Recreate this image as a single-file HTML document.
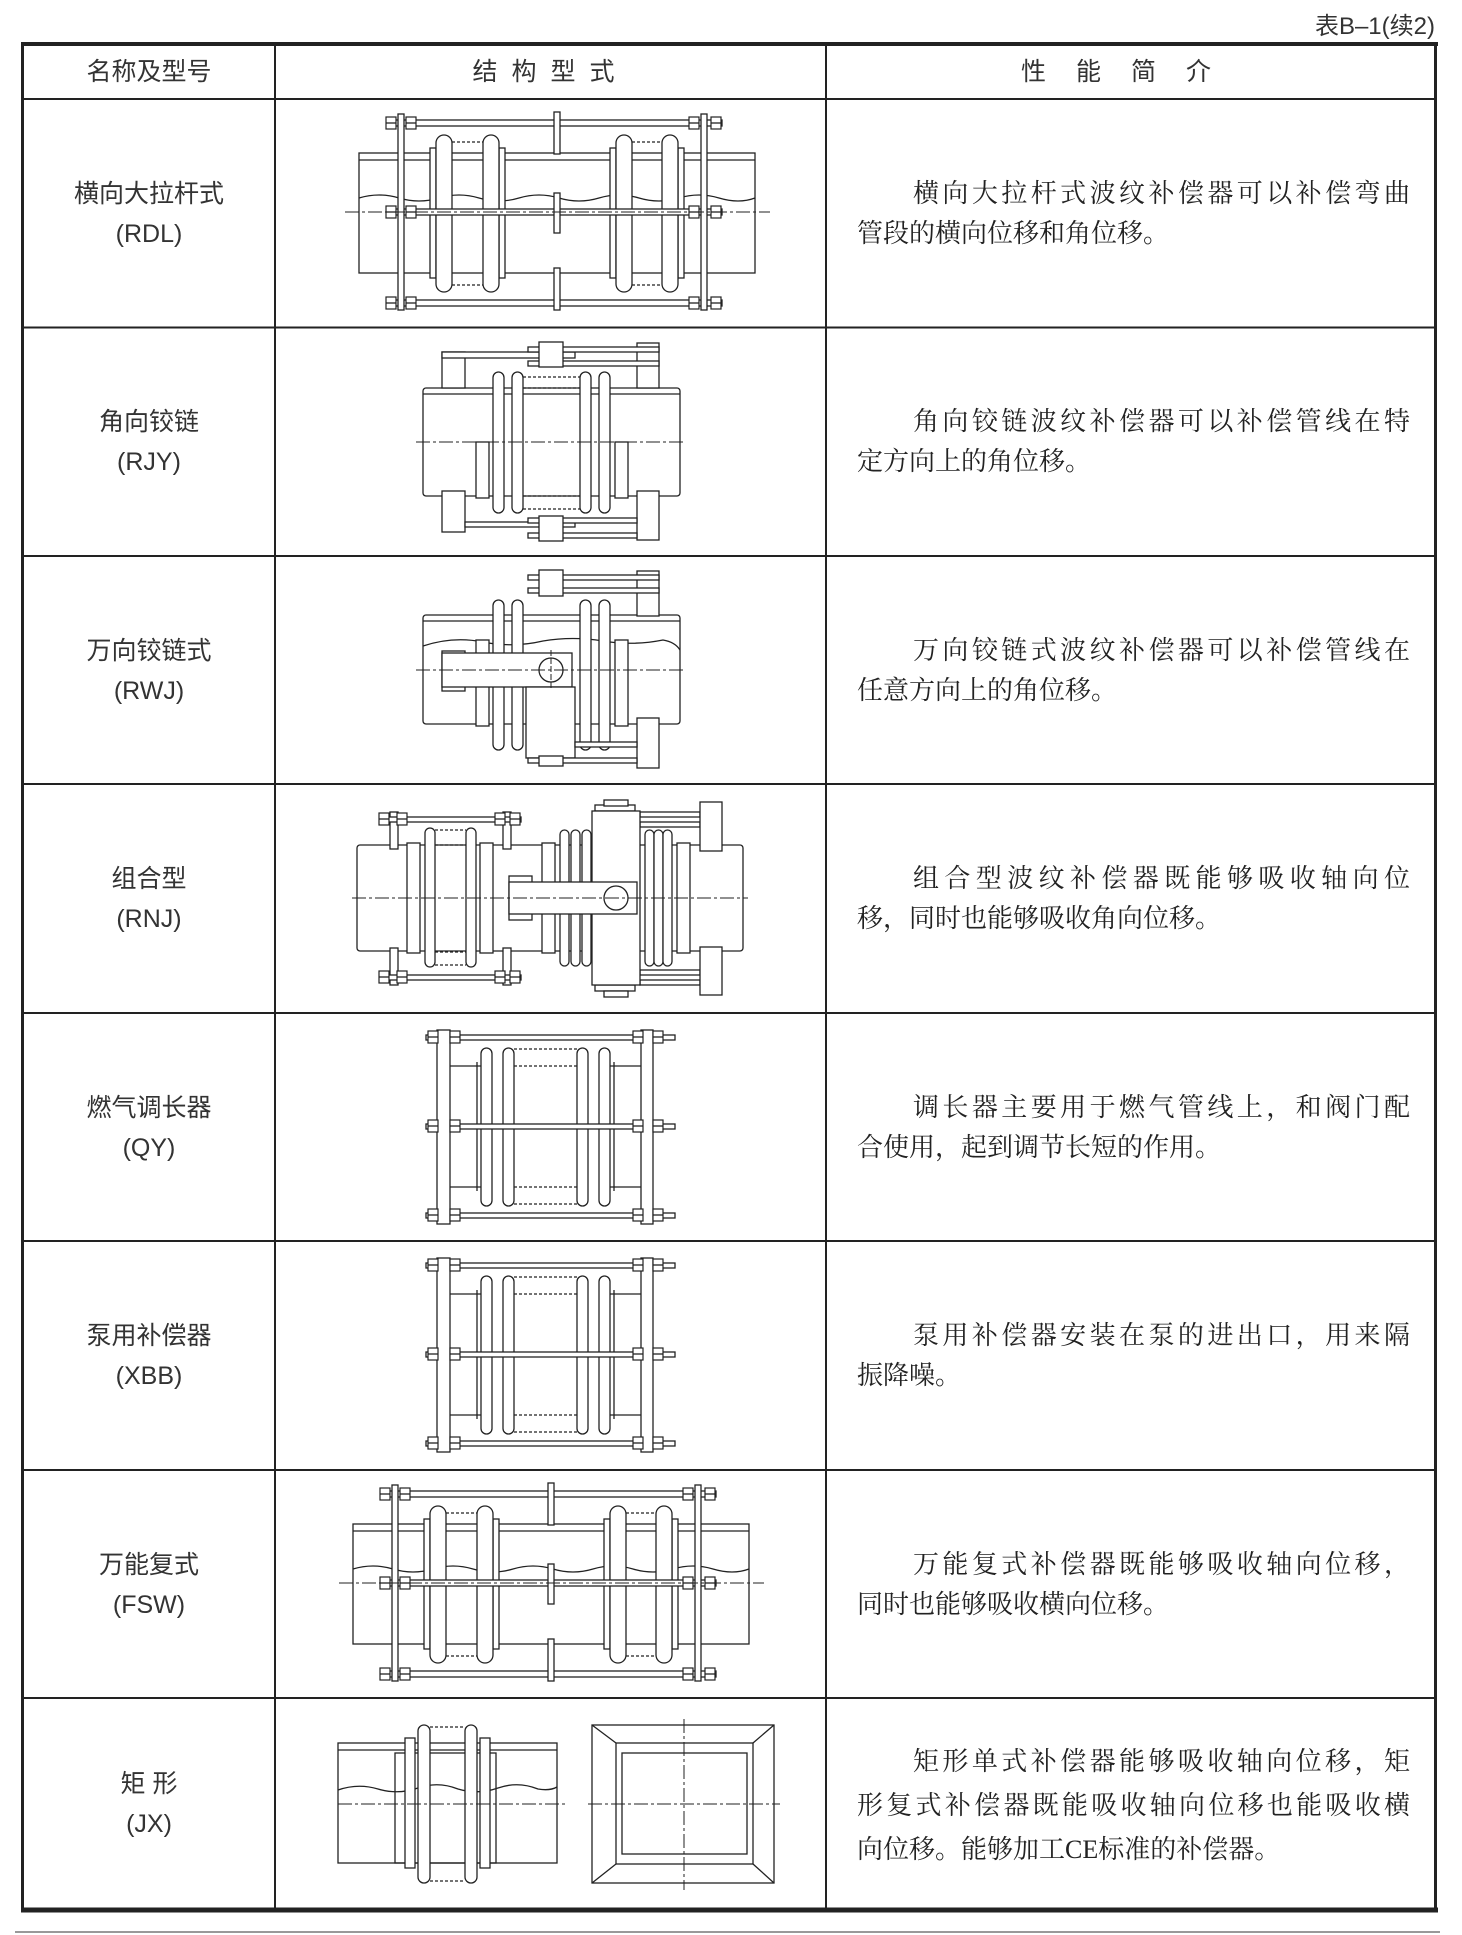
<!DOCTYPE html>
<html><head><meta charset="utf-8">
<style>
html,body{margin:0;padding:0;background:#fff;}
body{width:1462px;height:1935px;position:relative;overflow:hidden;font-family:"Liberation Sans","Noto Sans CJK SC",sans-serif;color:#333;}
.t{position:absolute;text-align:center;font-size:25px;line-height:40px;}
.d{position:absolute;left:857px;width:553px;font-family:"Liberation Serif","Noto Serif CJK SC",serif;font-size:26px;line-height:40px;color:#222;}
.d div{text-align:justify;text-align-last:justify;}
.d div.l{text-align-last:left;}
svg{position:absolute;left:0;top:0;}
</style></head><body>
<svg width="1462" height="1935" viewBox="0 0 1462 1935">
<defs>
<g id="nut"><rect x="-5" y="-6" width="10" height="12" fill="#fff" stroke="#222" stroke-width="1.2"/><line x1="-5" y1="0" x2="5" y2="0" stroke="#222"/></g>
</defs>
<g stroke="#222" fill="none">
<line x1="21" y1="44" x2="1438" y2="44" stroke-width="4"/>
<line x1="21" y1="1910" x2="1438" y2="1910" stroke-width="5"/>
<line x1="22.5" y1="44" x2="22.5" y2="1910" stroke-width="3"/>
<line x1="1435.5" y1="44" x2="1435.5" y2="1910" stroke-width="3"/>
<line x1="275" y1="44" x2="275" y2="1910" stroke-width="2"/>
<line x1="826" y1="44" x2="826" y2="1910" stroke-width="2"/>
<g stroke-width="2">
<line x1="22" y1="99" x2="1436" y2="99"/>
<line x1="22" y1="327.5" x2="1436" y2="327.5"/>
<line x1="22" y1="556" x2="1436" y2="556"/>
<line x1="22" y1="784" x2="1436" y2="784"/>
<line x1="22" y1="1013" x2="1436" y2="1013"/>
<line x1="22" y1="1241" x2="1436" y2="1241"/>
<line x1="22" y1="1470" x2="1436" y2="1470"/>
<line x1="22" y1="1698" x2="1436" y2="1698"/>
</g>
<line x1="15" y1="1932" x2="1440" y2="1932" stroke="#999" stroke-width="2"/>
</g>

<g stroke="#222" fill="none" stroke-width="1.3">
<g id="rdl">
<rect x="359" y="153" width="396" height="120"/>
<line x1="359" y1="160" x2="755" y2="160"/>
<path d="M359 198 Q379 192 399 198 Q419 204 439 198 Q459 192 479 198 Q499 204 519 198 Q539 192 559 198 Q579 204 599 198 Q619 192 639 198 Q659 204 679 198 Q699 192 719 198 Q739 204 755 198"/>
<g fill="#fff">
<rect x="430" y="148" width="6" height="130"/><rect x="499" y="148" width="6" height="130"/>
<rect x="610" y="148" width="6" height="130"/><rect x="678" y="148" width="6" height="130"/>
<rect x="436" y="135" width="16" height="157" rx="8"/><rect x="483" y="135" width="16" height="157" rx="8"/>
<rect x="616" y="135" width="16" height="157" rx="8"/><rect x="662" y="135" width="16" height="157" rx="8"/>
</g>
<g stroke-dasharray="3 2"><line x1="452" y1="142" x2="483" y2="142"/><line x1="452" y1="285" x2="483" y2="285"/><line x1="632" y1="142" x2="662" y2="142"/><line x1="632" y1="285" x2="662" y2="285"/></g>
<g fill="#fff">
<rect x="387" y="120" width="335" height="6"/><rect x="387" y="209" width="335" height="6"/><rect x="387" y="300" width="335" height="6"/>
<rect x="398" y="114" width="6" height="196"/><rect x="701" y="114" width="6" height="196"/>
<rect x="554" y="112" width="6" height="42"/><rect x="554" y="193" width="6" height="40"/><rect x="554" y="268" width="6" height="42"/>
</g>
<use href="#nut" x="391" y="123"/><use href="#nut" x="411" y="123"/><use href="#nut" x="694" y="123"/><use href="#nut" x="716" y="123"/>
<use href="#nut" x="391" y="212"/><use href="#nut" x="411" y="212"/><use href="#nut" x="694" y="212"/><use href="#nut" x="716" y="212"/>
<use href="#nut" x="391" y="303"/><use href="#nut" x="411" y="303"/><use href="#nut" x="694" y="303"/><use href="#nut" x="716" y="303"/>
<line x1="345" y1="212" x2="770" y2="212" stroke-dasharray="14 3 3 3" stroke-width="1"/>
</g>
<use href="#rdl" x="-6" y="1371"/>

<!-- ROW 2 RJY -->
<rect x="423" y="388" width="257" height="108" rx="3"/>
<line x1="423" y1="394" x2="680" y2="394"/>
<g fill="#fff">
<rect x="476" y="442" width="13" height="56"/><rect x="615" y="442" width="13" height="56"/>
<rect x="493" y="372" width="11" height="141" rx="5.5"/><rect x="512" y="372" width="11" height="141" rx="5.5"/>
<rect x="580" y="372" width="11" height="141" rx="5.5"/><rect x="599" y="372" width="11" height="141" rx="5.5"/>
<rect x="442" y="352" width="23" height="36"/><rect x="442" y="491" width="23" height="41"/>
<rect x="637" y="343" width="22" height="45"/><rect x="637" y="491" width="22" height="49"/>
<rect x="442" y="352" width="133" height="6"/><rect x="528" y="347" width="131" height="5"/><rect x="528" y="361" width="131" height="5"/>
<rect x="539" y="342" width="24" height="25"/>
<rect x="465" y="522" width="110" height="5"/><rect x="528" y="518" width="109" height="5"/><rect x="528" y="533" width="109" height="5"/>
<rect x="539" y="516" width="24" height="25"/>
</g>
<g stroke-dasharray="3 2"><line x1="523" y1="377" x2="580" y2="377"/><line x1="523" y1="388" x2="580" y2="388"/><line x1="523" y1="496" x2="580" y2="496"/><line x1="523" y1="509" x2="580" y2="509"/></g>
<line x1="416" y1="442" x2="686" y2="442" stroke-dasharray="14 3 3 3" stroke-width="1"/>

<!-- ROW 3 RWJ -->
<rect x="423" y="615" width="257" height="109" rx="3"/>
<line x1="423" y1="621" x2="680" y2="621"/>
<path d="M423 646 Q453 636 483 642 Q513 648 543 641 Q573 636 603 641 Q633 646 663 640 Q675 642 680 650"/>
<g fill="#fff">
<rect x="476" y="640" width="13" height="86"/><rect x="615" y="640" width="13" height="86"/>
<rect x="493" y="600" width="11" height="150" rx="5.5"/><rect x="512" y="600" width="11" height="150" rx="5.5"/>
<rect x="580" y="600" width="11" height="150" rx="5.5"/><rect x="599" y="600" width="11" height="150" rx="5.5"/>
<rect x="637" y="571" width="22" height="45"/><rect x="637" y="718" width="22" height="50"/>
<rect x="528" y="575" width="131" height="5"/><rect x="528" y="588" width="131" height="5"/>
<rect x="539" y="570" width="24" height="26"/>
<rect x="442" y="651" width="23" height="40"/>
<rect x="442" y="653" width="130" height="34"/>
<rect x="526" y="687" width="49" height="71"/>
<rect x="575" y="742" width="62" height="5"/><rect x="528" y="758" width="109" height="5"/>
<rect x="539" y="756" width="24" height="10"/>
</g>
<circle cx="551" cy="670" r="12"/>
<line x1="416" y1="670" x2="686" y2="670" stroke-dasharray="14 3 3 3" stroke-width="1"/>
<line x1="551" y1="650" x2="551" y2="690" stroke-dasharray="6 2" stroke-width="1"/>

<!-- ROW 4 RNJ -->
<rect x="357" y="845" width="386" height="106" rx="3"/>
<g fill="#fff">
<rect x="407" y="843" width="13" height="110"/><rect x="480" y="843" width="13" height="110"/>
<rect x="425" y="828" width="10" height="139" rx="5"/><rect x="466" y="828" width="10" height="139" rx="5"/>
<rect x="390" y="812" width="8" height="37"/><rect x="390" y="948" width="8" height="37"/>
<rect x="503" y="812" width="8" height="37"/><rect x="503" y="948" width="8" height="37"/>
<rect x="380" y="817" width="141" height="5"/><rect x="380" y="975" width="141" height="5"/>
<rect x="542" y="843" width="13" height="110"/><rect x="677" y="843" width="13" height="110"/>
<rect x="560" y="830" width="9" height="136" rx="4.5"/><rect x="571" y="830" width="9" height="136" rx="4.5"/><rect x="582" y="830" width="9" height="136" rx="4.5"/>
<rect x="645" y="830" width="9" height="136" rx="4.5"/><rect x="654" y="830" width="9" height="136" rx="4.5"/><rect x="663" y="830" width="9" height="136" rx="4.5"/>
<rect x="640" y="812" width="60" height="5"/><rect x="640" y="822" width="60" height="5"/>
<rect x="640" y="970" width="60" height="5"/><rect x="640" y="980" width="60" height="5"/>
<rect x="595" y="805" width="40" height="6"/><rect x="604" y="800" width="24" height="6"/>
<rect x="595" y="985" width="40" height="6"/><rect x="604" y="991" width="24" height="6"/>
<rect x="592" y="811" width="48" height="174"/>
<rect x="700" y="802" width="22" height="49"/><rect x="700" y="947" width="22" height="48"/>
<rect x="509" y="876" width="23" height="44"/>
<rect x="509" y="882" width="128" height="32"/>
</g>
<g stroke-dasharray="3 2"><line x1="435" y1="830" x2="466" y2="830"/><line x1="435" y1="845" x2="466" y2="845"/><line x1="435" y1="952" x2="466" y2="952"/><line x1="435" y1="965" x2="466" y2="965"/></g>
<use href="#nut" x="384" y="819"/><use href="#nut" x="402" y="819"/><use href="#nut" x="500" y="819"/><use href="#nut" x="515" y="819"/>
<use href="#nut" x="384" y="977"/><use href="#nut" x="402" y="977"/><use href="#nut" x="500" y="977"/><use href="#nut" x="515" y="977"/>
<circle cx="616" cy="898" r="12"/>
<line x1="352" y1="898" x2="748" y2="898" stroke-dasharray="14 3 3 3" stroke-width="1"/>

<!-- ROW 5 QY & ROW 6 XBB -->
<g id="qy">
<line x1="450" y1="1066" x2="481" y2="1066"/><line x1="450" y1="1187" x2="481" y2="1187"/>
<line x1="610" y1="1066" x2="641" y2="1066"/><line x1="610" y1="1187" x2="641" y2="1187"/>
<line x1="477" y1="1062" x2="477" y2="1191"/><line x1="614" y1="1062" x2="614" y2="1191"/>
<g fill="#fff">
<rect x="481" y="1048" width="11" height="158" rx="5.5"/><rect x="503" y="1048" width="11" height="158" rx="5.5"/>
<rect x="577" y="1048" width="11" height="158" rx="5.5"/><rect x="599" y="1048" width="11" height="158" rx="5.5"/>
<rect x="426" y="1035" width="249" height="5"/><rect x="426" y="1124" width="249" height="5"/><rect x="426" y="1213" width="249" height="5"/>
<rect x="437" y="1030" width="13" height="194"/><rect x="641" y="1030" width="12" height="194"/>
</g>
<g stroke-dasharray="3 2"><line x1="514" y1="1049" x2="577" y2="1049"/><line x1="514" y1="1066" x2="577" y2="1066"/><line x1="514" y1="1187" x2="577" y2="1187"/><line x1="514" y1="1204" x2="577" y2="1204"/></g>
<use href="#nut" x="433" y="1037"/><use href="#nut" x="455" y="1037"/><use href="#nut" x="638" y="1037"/><use href="#nut" x="658" y="1037"/>
<use href="#nut" x="433" y="1126"/><use href="#nut" x="455" y="1126"/><use href="#nut" x="638" y="1126"/><use href="#nut" x="658" y="1126"/>
<use href="#nut" x="433" y="1215"/><use href="#nut" x="455" y="1215"/><use href="#nut" x="638" y="1215"/><use href="#nut" x="658" y="1215"/>
</g>
<use href="#qy" x="0" y="228"/>

<!-- ROW 8 JX -->
<rect x="338" y="1743" width="219" height="120"/>
<line x1="338" y1="1750" x2="557" y2="1750"/>
<rect x="395" y="1753" width="101" height="110"/>
<path d="M338 1790 Q358 1783 378 1789 Q398 1795 418 1788 Q438 1781 458 1789 Q478 1795 498 1788 Q518 1781 538 1789 Q550 1791 557 1787"/>
<g fill="#fff">
<rect x="405" y="1738" width="10" height="130"/><rect x="480" y="1738" width="10" height="130"/>
<rect x="418" y="1725" width="12" height="158" rx="6"/><rect x="465" y="1725" width="12" height="158" rx="6"/>
</g>
<g stroke-dasharray="3 2"><line x1="430" y1="1727" x2="465" y2="1727"/><line x1="430" y1="1881" x2="465" y2="1881"/></g>
<line x1="338" y1="1804" x2="566" y2="1804" stroke-dasharray="14 3 3 3" stroke-width="1"/>
<rect x="592" y="1725" width="182" height="158"/>
<rect x="616" y="1743" width="137" height="121"/>
<rect x="622" y="1753" width="125" height="101"/>
<line x1="592" y1="1725" x2="616" y2="1743"/><line x1="774" y1="1725" x2="753" y2="1743"/>
<line x1="592" y1="1883" x2="616" y2="1864"/><line x1="774" y1="1883" x2="753" y2="1864"/>
<line x1="588" y1="1804" x2="780" y2="1804" stroke-dasharray="14 3 3 3" stroke-width="1"/>
<line x1="684" y1="1719" x2="684" y2="1890" stroke-dasharray="14 3 3 3" stroke-width="1"/>
</g>
</svg>

<div style="position:absolute;right:27px;top:6px;font-size:24px;color:#333;">表B–1(续2)</div>
<div class="t" style="left:23px;width:252px;top:52px;">名称及型号</div>
<div class="t" style="left:275px;width:551px;top:52px;letter-spacing:14px;">结构型式</div>
<div class="t" style="left:826px;width:610px;top:52px;letter-spacing:30px;">性能简介</div>

<div class="t" style="left:23px;width:252px;top:174px;">横向大拉杆式<br>(RDL)</div>
<div class="t" style="left:23px;width:252px;top:402px;">角向铰链<br>(RJY)</div>
<div class="t" style="left:23px;width:252px;top:631px;">万向铰链式<br>(RWJ)</div>
<div class="t" style="left:23px;width:252px;top:859px;">组合型<br>(RNJ)</div>
<div class="t" style="left:23px;width:252px;top:1088px;">燃气调长器<br>(QY)</div>
<div class="t" style="left:23px;width:252px;top:1316px;">泵用补偿器<br>(XBB)</div>
<div class="t" style="left:23px;width:252px;top:1545px;">万能复式<br>(FSW)</div>
<div class="t" style="left:23px;width:252px;top:1764px;">矩 形<br>(JX)</div>

<div class="d" style="top:174px;"><div style="padding-left:56px;">横向大拉杆式波纹补偿器可以补偿弯曲</div><div class="l">管段的横向位移和角位移。</div></div>
<div class="d" style="top:402px;"><div style="padding-left:56px;">角向铰链波纹补偿器可以补偿管线在特</div><div class="l">定方向上的角位移。</div></div>
<div class="d" style="top:631px;"><div style="padding-left:56px;">万向铰链式波纹补偿器可以补偿管线在</div><div class="l">任意方向上的角位移。</div></div>
<div class="d" style="top:859px;"><div style="padding-left:56px;">组合型波纹补偿器既能够吸收轴向位</div><div class="l">移，同时也能够吸收角向位移。</div></div>
<div class="d" style="top:1088px;"><div style="padding-left:56px;">调长器主要用于燃气管线上，和阀门配</div><div class="l">合使用，起到调节长短的作用。</div></div>
<div class="d" style="top:1316px;"><div style="padding-left:56px;">泵用补偿器安装在泵的进出口，用来隔</div><div class="l">振降噪。</div></div>
<div class="d" style="top:1545px;"><div style="padding-left:56px;">万能复式补偿器既能够吸收轴向位移，</div><div class="l">同时也能够吸收横向位移。</div></div>
<div class="d" style="top:1740px;line-height:44px;"><div style="padding-left:56px;">矩形单式补偿器能够吸收轴向位移，矩</div><div>形复式补偿器既能吸收轴向位移也能吸收横</div><div class="l">向位移。能够加工CE标准的补偿器。</div></div>
</body></html>
